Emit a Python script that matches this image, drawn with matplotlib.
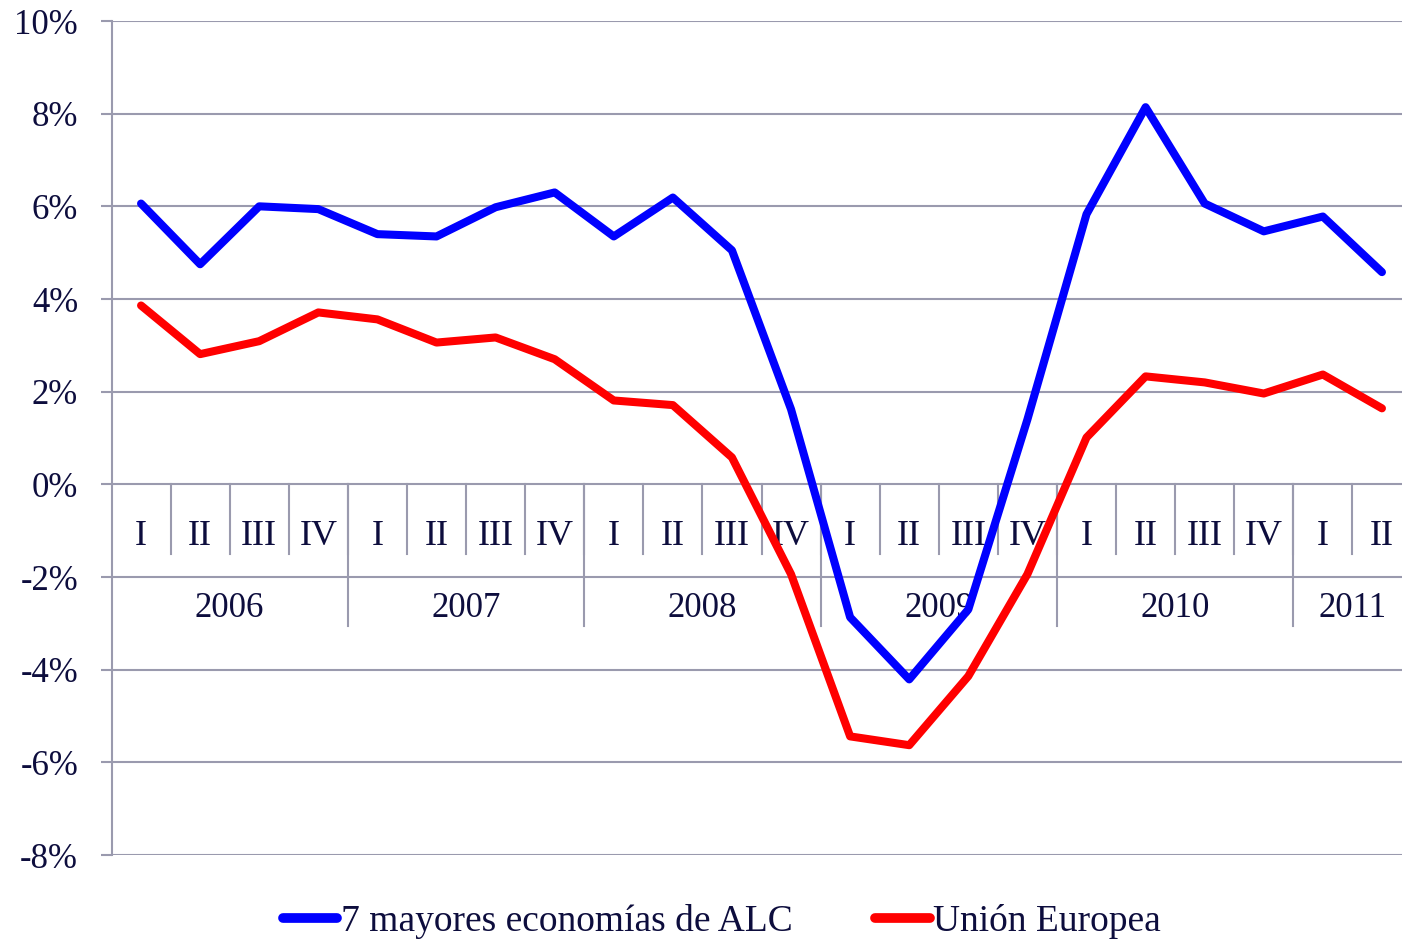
import matplotlib
matplotlib.use('Agg')
import matplotlib.pyplot as plt

# datos trimestrales (variacion % anual)
years = ['2006', '2007', '2008', '2009', '2010', '2011']
quarters = ['I', 'II', 'III', 'IV', 'I', 'II', 'III', 'IV', 'I', 'II', 'III', 'IV',
            'I', 'II', 'III', 'IV', 'I', 'II', 'III', 'IV', 'I', 'II']
quarters_per_year = [4, 4, 4, 4, 4, 2]

alc = [6.06, 4.75, 6.0, 5.94, 5.4, 5.35, 5.98, 6.3, 5.35, 6.19, 5.05, 1.62,
       -2.87, -4.21, -2.7, 1.4, 5.83, 8.14, 6.06, 5.46, 5.78, 4.58]
ue = [3.86, 2.81, 3.09, 3.71, 3.56, 3.06, 3.17, 2.7, 1.81, 1.71, 0.58, -1.94,
      -5.44, -5.63, -4.14, -1.94, 1.01, 2.33, 2.2, 1.96, 2.37, 1.64]

yticks = [-8, -6, -4, -2, 0, 2, 4, 6, 8, 10]

txt_color = '#0d0d3d'
grid_color = '#9a9aae'
font = 'Liberation Serif'


def main():
    plt.rcParams['font.family'] = font
    fig = plt.figure(figsize=(14.02, 9.43), dpi=100)
    ax = fig.add_axes([111.5 / 1402, 1 - 855 / 943, 1300 / 1402, (855 - 21) / 943])

    x = [i + 0.5 for i in range(len(quarters))]
    ax.plot(x, alc, color='#0000ff', lw=5.8, solid_capstyle='round',
            solid_joinstyle='round', zorder=5, label='7 mayores economías de ALC')
    ax.plot(x, ue, color='#ff0000', lw=5.8, solid_capstyle='round',
            solid_joinstyle='round', zorder=5, label='Unión Europea')

    ax.set_xlim(0, len(quarters))
    ax.set_ylim(-8, 10)
    ax.set_yticks(yticks)
    ax.set_yticklabels([f'{v}%' for v in yticks])
    ax.set_xticks([])
    for s in ['top', 'right', 'bottom']:
        ax.spines[s].set_visible(False)
    ax.spines['left'].set_color(grid_color)
    ax.spines['left'].set_linewidth(1.5)
    ax.tick_params(axis='y', length=8, width=1.5, color=grid_color,
                   labelsize=25, labelcolor=txt_color, pad=16)
    ax.yaxis.grid(True, color=grid_color, lw=1.5)
    ax.set_axisbelow(True)

    # etiquetas de categorias sobre la linea de 0%
    for i, q in enumerate(quarters):
        ax.text(i + 0.5, -1.12, q, ha='center', va='center', fontsize=26,
                color=txt_color, zorder=3)
        if i > 0:
            ax.plot([i, i], [0, -1.51], color=grid_color, lw=1.5, zorder=2)
    start = 0
    for y, n in zip(years, quarters_per_year):
        ax.text(start + n / 2, -2.68, y, ha='center', va='center', fontsize=25,
                color=txt_color, zorder=3)
        if start > 0:
            ax.plot([start, start], [0, -3.06], color=grid_color, lw=1.5, zorder=2)
        start += n

    leg = fig.legend(loc='lower center', bbox_to_anchor=(0.515, -0.032), ncol=2,
                     frameon=False, fontsize=27, handlelength=1.45,
                     handletextpad=0.1, columnspacing=2.2)
    for t in leg.get_texts():
        t.set_color(txt_color)
    for h in leg.get_lines():
        h.set_linewidth(7)

    fig.savefig('out.png', dpi=100)


if __name__ == '__main__':
    main()
